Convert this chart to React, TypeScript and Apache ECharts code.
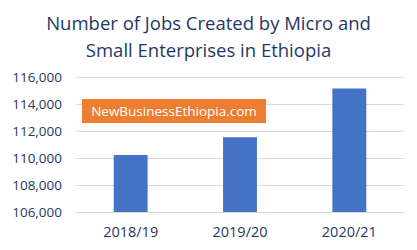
import React, { useEffect, useRef } from "react";
import * as echarts from "echarts";

const categories = ["2018/19", "2019/20", "2020/21"];
const jobs = [110220, 111530, 115140];
const titleLines = ["Number of Jobs Created by Micro and", "Small Enterprises in Ethiopia"];
const watermark = "NewBusinessEthiopia.com";

export default function App() {
  const ref = useRef<HTMLDivElement>(null);
  useEffect(() => {
    const chart = echarts.init(ref.current!, null, { renderer: "svg" });
    const navy = "#1F3864";
    chart.setOption({
      animation: false,
      backgroundColor: "#fff",
      title: {
        text: titleLines.join("\n"),
        left: "center",
        top: 4,
        textStyle: {
          fontFamily: "Open Sans",
          fontSize: 18.5,
          fontWeight: "normal",
          color: navy,
          lineHeight: 27,
        },
      },
      grid: { left: 76, right: 13, top: 77, bottom: 38 },
      xAxis: {
        type: "category",
        data: categories,
        axisLine: { lineStyle: { color: "#d9d9d9" } },
        axisTick: { show: false },
        axisLabel: { color: navy, fontFamily: "Open Sans", fontSize: 14.5, margin: 12 },
      },
      yAxis: {
        type: "value",
        min: 106000,
        max: 116000,
        interval: 2000,
        axisLabel: {
          color: navy,
          fontFamily: "Open Sans",
          fontSize: 13.5,
          margin: 14,
          formatter: (v: number) => v.toLocaleString("en-US"),
        },
        splitLine: { lineStyle: { color: "#d9d9d9" } },
      },
      series: [
        {
          type: "bar",
          data: jobs,
          barWidth: "31%",
          itemStyle: { color: "#4472C4" },
        },
      ],
      graphic: [
        {
          type: "group",
          left: 82,
          top: 99,
          z: 100,
          children: [
            {
              type: "rect",
              z: 100,
              shape: { x: 0, y: 0, width: 184, height: 24 },
              style: { fill: "#ED7D31" },
            },
            {
              type: "text",
              z: 101,
              x: 92,
              y: 12,
              style: {
                text: watermark,
                fill: "#fff",
                fontFamily: "Open Sans",
                fontSize: 13.5,
                align: "center",
                verticalAlign: "middle",
              },
            },
          ],
        },
      ],
    });
    return () => chart.dispose();
  }, []);
  return <div ref={ref} style={{ width: 417, height: 250, margin: -8 }} />;
}
